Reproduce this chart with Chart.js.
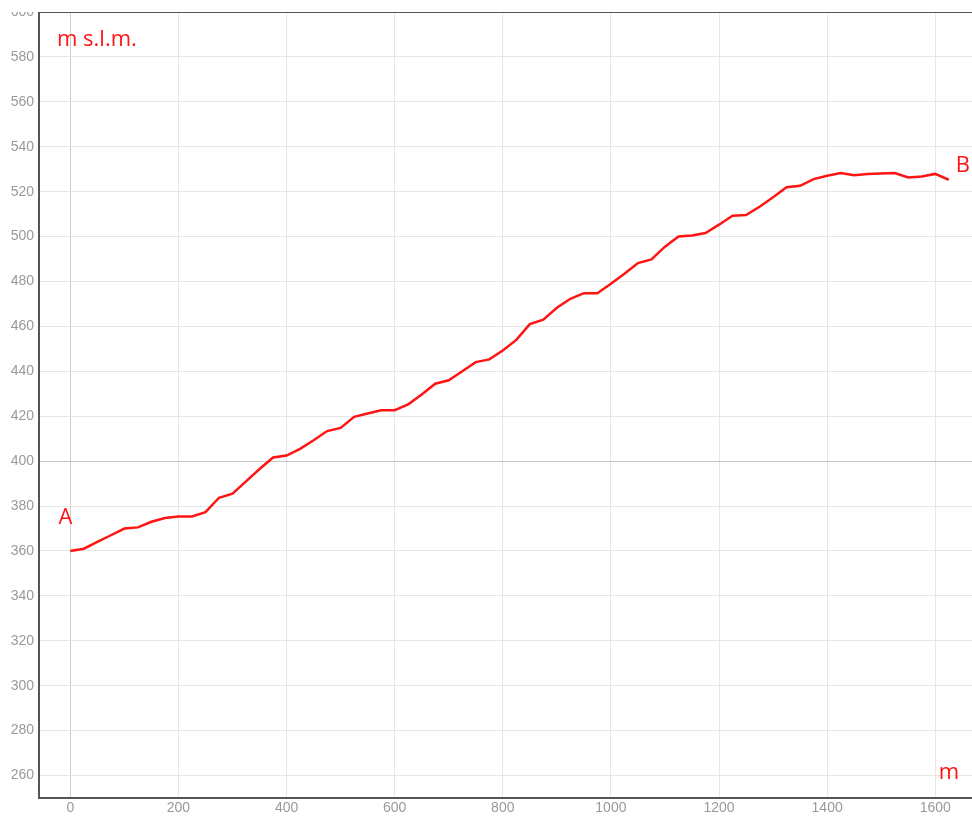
<!DOCTYPE html>
<html>
<head>
<meta charset="utf-8">
<script src="https://cdn.jsdelivr.net/npm/chart.js@4"></script>
<style>
  html, body { margin: 0; padding: 0; background: #fff; }
  #wrap { position: absolute; left: 0; top: 12px; width: 972px; height: 805px; }
</style>
</head>
<body>
<div id="wrap"><canvas id="profile"></canvas></div>
<script>
  // profile data (distance in m, elevation in m s.l.m.)
  const distance = [
    0, 25, 50, 75, 100, 125, 150, 175, 200, 225,
    250, 275, 300, 325, 350, 375, 400, 425, 450, 475,
    500, 525, 550, 575, 600, 625, 650, 675, 700, 725,
    750, 775, 800, 825, 850, 875, 900, 925, 950, 975,
    1000, 1025, 1050, 1075, 1100, 1125, 1150, 1175, 1200, 1225,
    1250, 1275, 1300, 1325, 1350, 1375, 1400, 1425, 1450, 1475,
    1500, 1525, 1550, 1575, 1600, 1625
  ]
  const elevation = [
    360, 361, 364, 367, 370, 370.5, 373, 374.7, 375.4, 375.4,
    377.3, 383.7, 385.5, 391, 396.5, 401.6, 402.5, 405.5, 409.3, 413.4,
    414.8, 419.7, 421.2, 422.7, 422.7, 425.3, 429.7, 434.5, 436, 440,
    444.1, 445.3, 449.3, 454, 461, 463, 468.3, 472.3, 474.8, 474.8,
    479, 483.4, 488.2, 489.8, 495.5, 500, 500.5, 501.6, 505.3, 509.3,
    509.6, 513.3, 517.5, 522, 522.6, 525.6, 527.1, 528.3, 527.3, 527.9,
    528.1, 528.3, 526.3, 526.8, 527.9, 525.3
  ]
  const startLabel = 'A'
  const endLabel = 'B'
  const yTitle = 'm s.l.m.'
  const xTitle = 'm'

  const RED = '#ff1414'
  const tickFont = { family: 'Liberation Sans', size: 14 }

  // frame + red annotations
  const annotations = {
    id: 'annotations',
    afterDraw(chart) {
      const { ctx, chartArea, scales } = chart
      const x = scales.x, y = scales.y
      ctx.save()
      ctx.strokeStyle = '#555'
      ctx.lineWidth = 2
      ctx.beginPath()
      ctx.moveTo(chartArea.left, chartArea.top)
      ctx.lineTo(chartArea.right, chartArea.top)
      ctx.stroke()

      ctx.fillStyle = RED
      ctx.font = '22px "Open Sans"'
      ctx.textBaseline = 'middle'
      ctx.textAlign = 'left'
      ctx.fillText(yTitle, chartArea.left + 18, chartArea.top + 28)
      ctx.textAlign = 'center'
      ctx.fillText(xTitle, chartArea.right - 23, chartArea.bottom - 25)

      const n = distance.length - 1
      ctx.fillText(startLabel, x.getPixelForValue(distance[0]) - 5, y.getPixelForValue(elevation[0]) - 33)
      ctx.fillText(endLabel, x.getPixelForValue(distance[n]) + 14, y.getPixelForValue(elevation[n]) - 14)
      ctx.restore()
    }
  }

  const ctx = document.getElementById('profile')

  new Chart(ctx, {
    type: 'line',
    data: {
      datasets: [{
        data: distance.map((d, i) => ({ x: d, y: elevation[i] })),
        borderColor: RED,
        borderWidth: 2.5,
        pointRadius: 0,
        tension: 0,
        fill: false
      }]
    },
    options: {
      responsive: true,
      maintainAspectRatio: false,
      animation: false,
      layout: { padding: { top: 0, left: 0, right: 0, bottom: 0 } },
      plugins: {
        legend: { display: false },
        tooltip: { enabled: false }
      },
      scales: {
        x: {
          type: 'linear',
          min: -58,
          max: 1668,
          border: { color: '#555', width: 2 },
          grid: {
            drawTicks: false,
            color: c => (c.tick && c.tick.value === 0) ? '#cfcfcf' : '#e6e6e6',
            lineWidth: 1
          },
          ticks: {
            stepSize: 200,
            includeBounds: false,
            padding: 2,
            color: '#999',
            font: tickFont,
            maxRotation: 0,
            callback: v => String(v)
          },
          afterFit(scale) {
            scale.height = 19
            scale.paddingLeft = 0
            scale.paddingRight = 0
          }
        },
        y: {
          type: 'linear',
          min: 250,
          max: 600,
          border: { color: '#555', width: 2 },
          grid: {
            drawTicks: false,
            color: c => (c.tick && c.tick.value === 400) ? '#c4c4c4' : '#e6e6e6',
            lineWidth: 1
          },
          ticks: {
            stepSize: 20,
            includeBounds: false,
            padding: 5,
            color: '#999',
            font: tickFont,
            callback: v => String(v)
          },
          afterFit(scale) {
            scale.width = 39
            scale.paddingTop = 0
            scale.paddingBottom = 0
          }
        }
      }
    },
    plugins: [annotations]
  })
</script>
</body>
</html>
